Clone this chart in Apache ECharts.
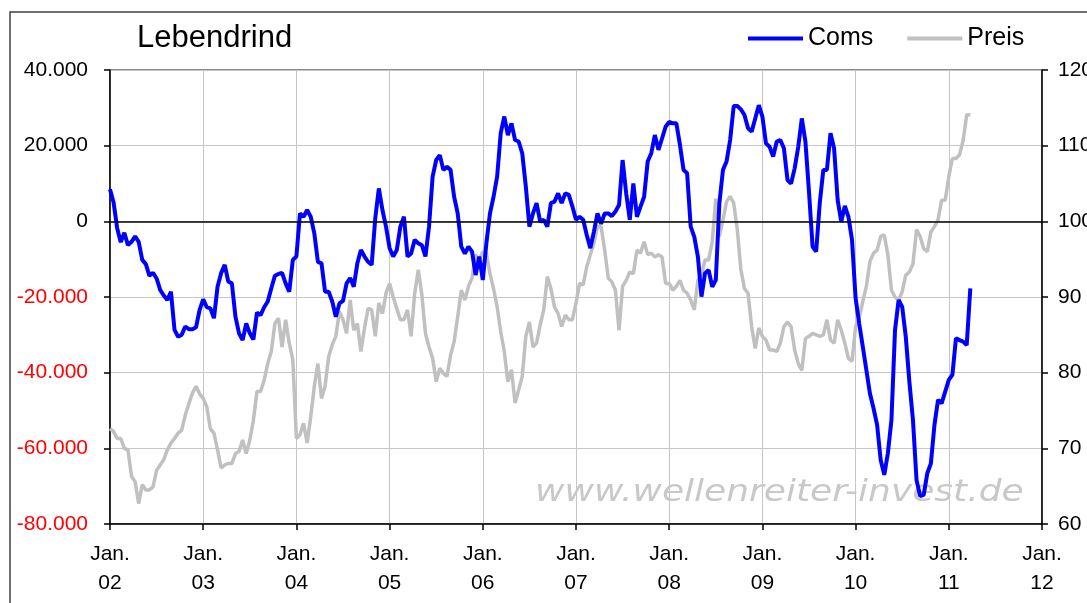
<!DOCTYPE html>
<html lang="de">

<head>
    <meta charset="UTF-8">
    <title>Lebendrind</title>
    <style>
        * {
            padding: 0;
            margin: 0;
        }

        .box {
            width: 1087px;
            height: 603px;
        }
    </style>
</head>

<body>
    <div class="box" id="myChart"></div>
    <script src="https://cdn.jsdelivr.net/npm/echarts@6/dist/echarts.min.js"></script>
    <script>
        // Zweiwöchentliche Werte ab Jan. 2002
        const startYear = 2002;
        const perYear = 26;

        const comsValues = [
            // 2002
            8500, 5000, -1800, -5500, -3000, -6300, -5400, -4000, -5400, -10200, -11300, -14400, -13600,
            -15100, -18100, -19600, -20800, -18600, -28700, -30500, -30000, -27800, -28500, -28500, -28000, -23400,
            // 2003
            -20600, -22700, -23000, -25600, -17300, -13700, -11500, -15900, -16400, -25200, -29600, -31400, -27000,
            -29600, -31200, -24100, -24800, -22700, -21200, -17700, -14400, -13900, -13600, -16400, -18600, -10200,
            // 2004
            -9300, 2100, 1200, 3000, 1200, -3200, -10700, -11100, -18600, -18600, -21200, -25200, -21700,
            -21000, -16400, -15000, -17300, -11100, -7600, -9300, -10700, -11500, 800, 8700, 3000, -1400,
            // 2005
            -7100, -9300, -7600, -1400, 1200, -9300, -8500, -4900, -5800, -6300, -9300, -1400, 11800,
            16200, 17500, 13600, 14400, 13600, 6500, 2100, -6700, -8500, -6700, -8000, -14200, -9300,
            // 2006
            -15500, -5800, 2100, 6500, 11800, 23300, 27700, 22800, 25900, 21500, 21100, 18000, 9200,
            -1400, 2100, 4800, -100, 400, -1400, 4800, 5200, 7400, 4800, 7400, 7000, 3900,
            // 2007
            400, 1200, 400, -3600, -7100, -2700, 2100, -700, 2100, 2100, 1400, 2600, 4300,
            16200, 7400, 400, 10000, 1200, 3900, 6500, 15800, 18000, 22800, 18900, 21900, 25000,
            // 2008
            26300, 25900, 25900, 20200, 13600, 12700, -1400, -4100, -9300, -19900, -13700, -12900, -17300,
            -15500, 4800, 13600, 15800, 21500, 30500, 30500, 29600, 28100, 24600, 23700, 27200, 30700,
            // 2009
            27700, 20600, 19700, 17100, 21100, 21500, 19300, 10900, 10000, 14000, 19700, 27200, 21100,
            7800, -6700, -8000, 4800, 13600, 13600, 23300, 19300, 5600, -100, 4100, 1200, -4900,
            // 2010
            -20300, -27000, -33100, -39300, -45500, -49400, -53800, -63100, -67000, -61300, -52500, -28700, -20800,
            -22600, -30500, -42400, -52500, -68400, -72600, -72300, -66600, -64000, -53800, -47200, -48100, -45000,
            // 2011
            -41900, -40600, -30900, -31400, -31800, -32700, -17700
        ];

        const preisValues = [
            // 2002
            72.6, 72.2, 71.3, 71.3, 70.0, 69.8, 66.3, 65.6, 62.7, 65.2, 64.5, 64.5, 64.9,
            67.1, 67.8, 68.5, 69.8, 70.7, 71.3, 72.0, 72.4, 74.4, 75.9, 77.3, 78.2, 77.2,
            // 2003
            76.6, 75.5, 72.6, 72.0, 69.8, 67.4, 67.8, 68.0, 68.0, 69.3, 69.6, 71.1, 69.3,
            71.1, 73.7, 77.5, 77.5, 79.0, 81.2, 82.8, 86.5, 87.2, 83.4, 87.0, 83.9, 81.7,
            // 2004
            71.3, 71.8, 73.3, 70.7, 74.2, 78.2, 81.2, 76.6, 78.2, 82.1, 83.7, 84.8, 88.1,
            87.0, 85.2, 89.6, 85.6, 86.5, 82.8, 85.9, 88.5, 88.3, 84.8, 89.2, 87.8, 90.5,
            // 2005
            91.8, 90.0, 88.5, 87.0, 87.0, 88.3, 84.8, 90.5, 93.6, 90.3, 85.2, 83.4, 81.9,
            78.8, 80.6, 79.9, 79.5, 82.3, 84.1, 87.4, 90.9, 89.6, 91.4, 92.5, 95.6, 94.9,
            // 2006
            96.0, 95.8, 93.1, 91.1, 88.7, 85.4, 82.8, 78.8, 80.4, 76.0, 77.7, 79.5, 84.8,
            86.7, 83.4, 83.9, 86.3, 88.3, 92.7, 91.1, 88.7, 87.8, 86.1, 87.6, 87.0, 87.0,
            // 2007
            89.2, 91.8, 91.6, 94.0, 95.6, 97.1, 99.3, 99.3, 96.2, 92.5, 92.0, 90.9, 85.6,
            91.4, 92.2, 93.3, 93.1, 96.2, 95.8, 97.3, 95.6, 95.8, 95.3, 95.6, 95.3, 91.8,
            // 2008
            91.8, 90.9, 91.4, 92.2, 90.9, 90.5, 89.6, 88.3, 92.2, 92.9, 94.9, 94.9, 97.3,
            103.0, 98.0, 100.2, 102.6, 103.3, 102.4, 98.9, 93.6, 91.1, 90.5, 86.1, 83.2, 85.9,
            // 2009
            84.8, 84.3, 83.0, 83.0, 82.8, 83.9, 86.1, 86.7, 86.1, 83.0, 81.2, 80.3, 84.5,
            84.8, 85.2, 85.0, 84.8, 85.0, 87.0, 84.3, 83.9, 87.0, 85.6, 83.9, 81.9, 81.5,
            // 2010
            86.1, 87.2, 89.4, 91.4, 94.7, 95.8, 96.2, 98.0, 98.2, 95.6, 90.9, 90.0, 89.6,
            90.7, 92.9, 93.3, 94.4, 98.9, 98.0, 96.4, 96.0, 98.6, 99.3, 100.2, 102.8, 102.8,
            // 2011
            105.9, 108.3, 108.3, 108.8, 110.7, 114.1, 114.1
        ];

        const seriesNames = ['Coms', 'Preis'];
        const font = '"Liberation Sans", Arial, sans-serif';

        function toPoints(values) {
            return values.map((v, i) => [startYear + i / perYear, v]);
        }

        // 40000 -> "40.000"
        function formatThousands(v) {
            const s = Math.abs(v).toString().replace(/\B(?=(\d{3})+(?!\d))/g, '.');
            return (v < 0 ? '-' : '') + s;
        }

        let myChart = echarts.init(document.getElementById('myChart'));
        let option = {
            animation: false,
            backgroundColor: '#ffffff',
            title: {
                text: 'Lebendrind',
                left: 132,
                top: 18,
                textStyle: {
                    fontFamily: font,
                    fontSize: 31,
                    fontWeight: 'normal',
                    color: '#000000'
                }
            },
            legend: {
                data: seriesNames,
                left: 743,
                top: 21,
                icon: 'rect',
                itemWidth: 55,
                itemHeight: 4,
                itemGap: 34,
                textStyle: {
                    fontFamily: font,
                    fontSize: 25,
                    color: '#000000'
                }
            },
            grid: {
                left: 110,
                right: 45,
                top: 70,
                bottom: 79,
                outerBoundsMode: 'none', // "120" darf rechts abgeschnitten werden
                show: true,
                borderColor: '#666666',
                borderWidth: 1.5
            },
            xAxis: {
                type: 'value',
                min: 2002,
                max: 2012,
                interval: 1,
                axisLine: {
                    onZero: false,
                    lineStyle: { color: '#000000', width: 1.5 }
                },
                axisTick: {
                    inside: false,
                    length: 6,
                    lineStyle: { color: '#000000', width: 1.5 }
                },
                axisLabel: {
                    margin: 16,
                    fontFamily: font,
                    fontSize: 21,
                    lineHeight: 29,
                    color: '#000000',
                    formatter: function (v) {
                        return 'Jan.\n' + String(v % 100).padStart(2, '0');
                    }
                },
                splitLine: {
                    show: true,
                    lineStyle: { color: '#c6c6c6', width: 1 }
                }
            },
            yAxis: [{
                    type: 'value',
                    position: 'left',
                    min: -80000,
                    max: 40000,
                    interval: 20000,
                    axisLine: {
                        show: true,
                        lineStyle: { color: '#000000', width: 1.5 }
                    },
                    axisTick: {
                        show: true,
                        length: 6,
                        lineStyle: { color: '#000000', width: 1.5 }
                    },
                    axisLabel: {
                        margin: 22,
                        fontFamily: font,
                        fontSize: 21,
                        formatter: formatThousands,
                        color: function (val) {
                            return String(val).charAt(0) === '-' ? '#ff0000' : '#000000';
                        }
                    },
                    splitLine: {
                        show: true,
                        lineStyle: { color: '#c6c6c6', width: 1 }
                    }
                },
                {
                    type: 'value',
                    position: 'right',
                    min: 60,
                    max: 120,
                    interval: 10,
                    axisLine: {
                        show: true,
                        lineStyle: { color: '#000000', width: 1.5 }
                    },
                    axisTick: {
                        show: true,
                        length: 6,
                        lineStyle: { color: '#000000', width: 1.5 }
                    },
                    axisLabel: {
                        margin: 16,
                        fontFamily: font,
                        fontSize: 21,
                        color: '#000000'
                    },
                    splitLine: { show: false }
                }
            ],
            graphic: [{
                    // Rahmen um das Diagramm
                    type: 'rect',
                    shape: { x: 10, y: 12, width: 1200, height: 800 },
                    style: { fill: 'none', stroke: '#404040', lineWidth: 1.5 },
                    silent: true
                },
                {
                    type: 'text',
                    x: 535,
                    y: 493,
                    scaleX: 1.2,
                    silent: true,
                    z: 1,
                    style: {
                        text: 'www.wellenreiter-invest.de',
                        font: 'oblique 30px "DejaVu Sans"',
                        fill: '#c8c8c8',
                        verticalAlign: 'middle'
                    }
                }
            ],
            series: [{
                    name: 'Preis',
                    type: 'line',
                    yAxisIndex: 1,
                    symbol: 'none',
                    showSymbol: false,
                    z: 3,
                    itemStyle: { color: '#c0c0c0' },
                    lineStyle: { color: '#c0c0c0', width: 3.5 },
                    data: toPoints(preisValues)
                },
                {
                    name: 'Coms',
                    type: 'line',
                    yAxisIndex: 0,
                    symbol: 'none',
                    showSymbol: false,
                    z: 4,
                    itemStyle: { color: '#0000ff' },
                    lineStyle: { color: '#0000ff', width: 4 },
                    markLine: {
                        silent: true,
                        symbol: 'none',
                        label: { show: false },
                        lineStyle: { color: '#000000', width: 1.5, type: 'solid' },
                        data: [{ yAxis: 0 }]
                    },
                    data: toPoints(comsValues)
                }
            ]
        };
        myChart.setOption(option, true);
    </script>
</body>

</html>
